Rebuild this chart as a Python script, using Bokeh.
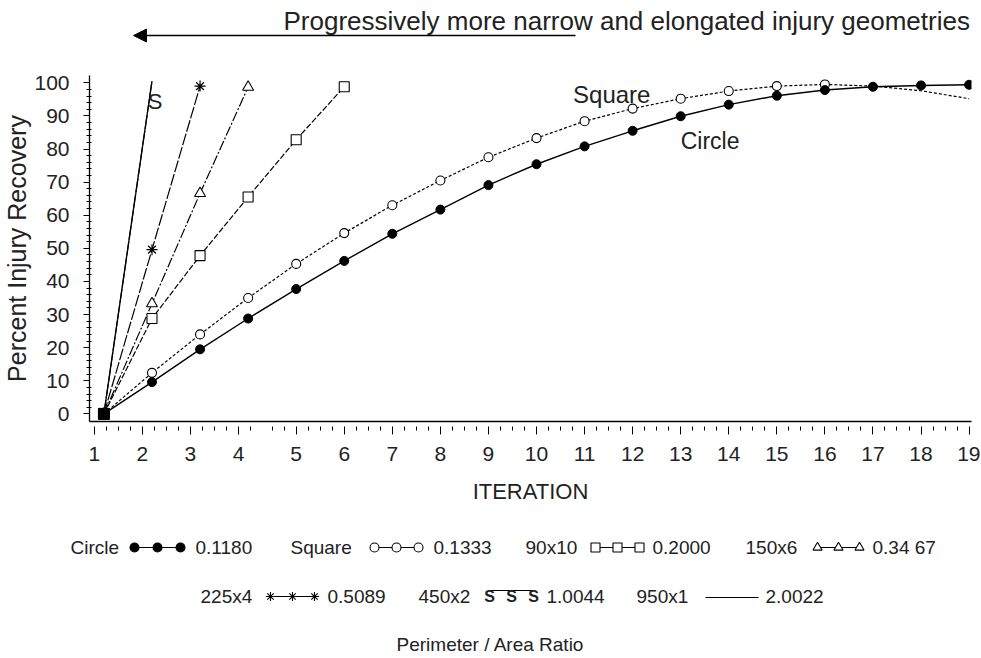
from bokeh.plotting import figure
from bokeh.models import Range1d, FixedTicker, Label, Arrow, NormalHead, ColumnDataSource
from bokeh.layouts import column
from bokeh.embed import file_html
from bokeh.resources import INLINE
from bokeh.core.properties import value

FONT = "Liberation Sans"

# ---------------- data ----------------
iterations = list(range(1, 20))
circle = [0, 9.6, 19.5, 28.8, 37.7, 46.2, 54.4, 61.7, 69.1, 75.4, 80.8, 85.5,
          89.9, 93.4, 96.1, 97.8, 98.8, 99.2, 99.4]
square = [0, 12.4, 24.0, 35.0, 45.3, 54.6, 63.0, 70.5, 77.5, 83.3, 88.4, 92.2,
          95.2, 97.5, 99.0, 99.5, 99.0, 97.6, 95.2]
square_marker_count = 16
r90x10 = [0, 28.8, 47.8, 65.5, 82.8, 98.8]
r150x6 = [0, 33.3, 66.6, 98.7]
r225x4 = [0, 49.6, 99.0]
r450x2 = [0, 100.5]
r950x1 = [0, 100.5]

x_tick_labels = [str(i) for i in range(1, 20)]
x_tick_pos = [0.8, 1.8, 2.8, 3.8] + list(range(5, 20))
y_ticks = list(range(0, 101, 10))

legend_names = ["Circle", "Square", "90x10", "150x6", "225x4", "450x2", "950x1"]
legend_ratios = ["0.1180", "0.1333", "0.2000", "0.34 67", "0.5089", "1.0044", "2.0022"]

title_text = "Progressively more narrow and elongated injury geometries"
x_label = "ITERATION"
y_label = "Percent Injury Recovery"
legend_title = "Perimeter / Area Ratio"

W = 980


def no_align(fig):
    if "frame_align" in fig.properties():
        fig.frame_align = False


# ---------------- header ----------------
HH = 65
hdr = figure(width=W, height=HH, x_range=Range1d(0, W), y_range=Range1d(HH, 0),
             x_axis_location=None, y_axis_location=None, min_border=0,
             output_backend="svg", toolbar_location=None)
no_align(hdr)
hdr.outline_line_color = None
hdr.grid.visible = False
hdr.add_layout(Label(x=283, y=20, text=title_text, text_font=FONT, text_font_size="26px",
                     text_baseline="middle", text_align="left", text_color="#222222"))
hdr.add_layout(Arrow(end=NormalHead(size=13, fill_color="black", line_color="black"),
                     x_start=575, y_start=35, x_end=133, y_end=35,
                     line_color="black", line_width=1.5))

# ---------------- main plot ----------------
p = figure(width=W, height=441, x_range=Range1d(0.70, 19.05), y_range=Range1d(-2.3, 102.2),
           min_border_left=88, min_border_right=W - 88 - 883, min_border_top=10,
           min_border_bottom=84, output_backend="svg", toolbar_location=None)
no_align(p)
p.outline_line_color = None
p.grid.visible = False

minor_x = [round(0.8 + 0.25 * k, 2) for k in range(1, 14) if k % 4 != 0] + [4.5, 4.75]
for n in range(5, 19):
    minor_x += [n + 0.25, n + 0.5, n + 0.75]

xa = p.xaxis[0]
xa.ticker = FixedTicker(ticks=x_tick_pos, minor_ticks=minor_x)
xa.major_label_overrides = {pos: lab for pos, lab in zip(x_tick_pos, x_tick_labels)}
xa.major_tick_in = -5
xa.major_tick_out = 13
xa.minor_tick_in = -5
xa.minor_tick_out = 9
xa.major_label_standoff = 12
xa.axis_label = x_label
xa.axis_label_standoff = 15

ya = p.yaxis[0]
ya.ticker = FixedTicker(ticks=y_ticks, minor_ticks=[v for v in range(0, 101, 2) if v % 10])
ya.major_tick_in = 0
ya.major_tick_out = 6
ya.minor_tick_in = 2
ya.minor_tick_out = 3
ya.major_label_standoff = 14
ya.axis_label = y_label
ya.axis_label_standoff = 0

for ax in (xa, ya):
    ax.axis_line_color = "black"
    ax.axis_line_width = 1.3
    ax.major_tick_line_color = "black"
    ax.minor_tick_line_color = "black"
    ax.major_label_text_font = FONT
    ax.major_label_text_font_size = "21px"
    ax.major_label_text_color = "#222222"
    ax.axis_label_text_font = FONT
    ax.axis_label_text_font_style = "normal"
    ax.axis_label_text_color = "#222222"
xa.axis_label_text_font_size = "22px"
ya.axis_label_text_font_size = "25px"

# elongated geometries
p.line(iterations[:2], r950x1, line_color="black", line_width=1.3)
p.line(iterations[:2], r450x2, line_color="black", line_width=1.2, line_dash="14 2")
src_s = ColumnDataSource(dict(x=iterations[:2], y=r450x2, t=["S", "S"]))
p.text(x="x", y="y", text="t", source=src_s, text_align="center", text_baseline="top",
       x_offset=3, y_offset=8, text_font=value(FONT), text_font_size="22px", text_color="#222222")

p.line(iterations[:3], r225x4, line_color="black", line_width=1.2, line_dash="12 2")
p.scatter(iterations[:3], r225x4, marker="asterisk", size=11, line_color="black", line_width=1.2)

p.line(iterations[:4], r150x6, line_color="black", line_width=1.2, line_dash="10 2 2 2")
p.scatter(iterations[:4], r150x6, marker="triangle", size=11, fill_color="white",
          line_color="black", line_width=1.1)

p.line(iterations[:6], r90x10, line_color="black", line_width=1.2, line_dash="6 2")
p.scatter(iterations[:6], r90x10, marker="square", size=10, fill_color="white",
          line_color="black", line_width=1.1)

# square
p.line(iterations, square, line_color="black", line_width=1.2, line_dash="3 2")
p.scatter(iterations[:square_marker_count], square[:square_marker_count], marker="circle",
          size=9, fill_color="white", line_color="black", line_width=1.1)
# circle
p.line(iterations, circle, line_color="black", line_width=1.4)
p.scatter(iterations, circle, marker="circle", size=9, fill_color="black", line_color="black")
# origin drawn as the filled square seen in the reference
p.scatter(iterations[:1], circle[:1], marker="square", size=11, fill_color="black", line_color="black")

p.add_layout(Label(x=10.76, y=96.4, text="Square", text_font=FONT, text_font_size="24px",
                   text_baseline="middle", text_color="#222222"))
p.add_layout(Label(x=13.0, y=82.4, text="Circle", text_font=FONT, text_font_size="23px",
                   text_baseline="middle", text_color="#222222"))

# ---------------- legend ----------------
LH = 150
lg = figure(width=W, height=LH, x_range=Range1d(0, W), y_range=Range1d(LH, 0),
            x_axis_location=None, y_axis_location=None, min_border=0,
            output_backend="svg", toolbar_location=None)
no_align(lg)
lg.outline_line_color = None
lg.grid.visible = False

# (name_x, first marker x, marker step, ratio_x, row_y)
slots = [
    (70, 134, 23, 195, 41),
    (290, 374, 22, 433, 41),
    (525, 595, 22, 652, 41),
    (745, 817, 21, 872, 41),
    (200, 270, 22, 327, 90),
    (418, 489, 22, 546, 90),
    (636, 705, 26.5, 765, 90),
]
styles = [
    dict(marker="circle", fill="black", dash="solid"),
    dict(marker="circle", fill="white", dash="3 2"),
    dict(marker="square", fill="white", dash="6 2"),
    dict(marker="triangle", fill="white", dash="10 2 2 2"),
    dict(marker="asterisk", fill="white", dash="12 2"),
    dict(marker="S", fill="white", dash="solid"),
    dict(marker=None, fill="white", dash="solid"),
]
for name, ratio, slot, st in zip(legend_names, legend_ratios, slots, styles):
    nx, mx, step, rx, ry = slot
    xs = [mx, mx + step, mx + 2 * step]
    ys = [ry, ry, ry]
    lg.add_layout(Label(x=nx, y=ry, text=name, text_font=FONT, text_font_size="19px",
                        text_baseline="middle", text_color="#222222"))
    lg.add_layout(Label(x=rx, y=ry, text=ratio, text_font=FONT, text_font_size="19px",
                        text_baseline="middle", text_color="#222222"))
    if st["marker"] is None:
        lg.line(xs, [ry + 1] * 3, line_color="black", line_width=1.2)
    elif st["marker"] == "S":
        lg.line(xs, [ry - 6] * 3, line_color="black", line_width=1.2)
        lg.text(x=xs, y=ys, text=["S", "S", "S"], text_align="center", text_baseline="middle",
                text_font=value(FONT), text_font_size="16px", text_font_style="bold",
                text_color="#222222")
    else:
        lg.line(xs, ys, line_color="black", line_width=1.2)
        lg.scatter(xs, ys, marker=st["marker"], size=9, fill_color=st["fill"],
                   line_color="black", line_width=1.1)

lg.add_layout(Label(x=490, y=138, text=legend_title, text_font=FONT, text_font_size="19px",
                    text_baseline="middle", text_align="center", text_color="#222222"))

layout = column(hdr, p, lg, spacing=0)
open("out.html", "w").write(file_html(layout, INLINE))
